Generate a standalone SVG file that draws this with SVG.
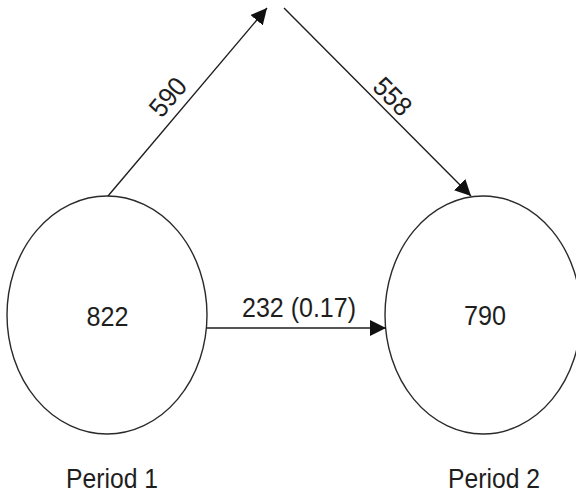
<svg xmlns="http://www.w3.org/2000/svg" width="576" height="493" viewBox="0 0 576 493">
  <defs>
    <style>
      .node { fill: none; stroke: #2a2a2a; stroke-width: 1.4; }
      .edge { fill: none; stroke: #1e1e1e; stroke-width: 1.4; }
      .lbl { font-family: "Liberation Sans", Arial, sans-serif; font-size: 27px; fill: #1e1e1e; }
    </style>
    <marker id="arrow" markerUnits="userSpaceOnUse" markerWidth="16" markerHeight="16" refX="16" refY="8" orient="auto">
      <path d="M0,0 L16,8 L0,16 z" fill="#111"/>
    </marker>
  </defs>
  <rect width="576" height="493" fill="#ffffff"/>

  <g id="period1">
    <ellipse class="node" cx="107" cy="315" rx="100" ry="119"/>
    <text class="lbl" x="107.5" y="326" text-anchor="middle" textLength="42" lengthAdjust="spacingAndGlyphs">822</text>
    <text class="lbl" x="112" y="488" text-anchor="middle" textLength="92" lengthAdjust="spacingAndGlyphs">Period 1</text>
  </g>

  <g id="period2">
    <ellipse class="node" cx="483" cy="315" rx="98" ry="119"/>
    <text class="lbl" x="485" y="325" text-anchor="middle" textLength="42" lengthAdjust="spacingAndGlyphs">790</text>
    <text class="lbl" x="494" y="488" text-anchor="middle" textLength="92" lengthAdjust="spacingAndGlyphs">Period 2</text>
  </g>

  <g id="connectors">
    <line class="edge" x1="108" y1="196" x2="267" y2="8" marker-end="url(#arrow)"/>
    <line class="edge" x1="284" y1="8" x2="471" y2="196" marker-end="url(#arrow)"/>
    <line class="edge" x1="207" y1="328" x2="386" y2="328" marker-end="url(#arrow)"/>
    <text class="lbl" transform="translate(175,103) rotate(-50)" text-anchor="middle" textLength="42" lengthAdjust="spacingAndGlyphs">590</text>
    <text class="lbl" transform="translate(386,103) rotate(45)" text-anchor="middle" textLength="42" lengthAdjust="spacingAndGlyphs">558</text>
    <text class="lbl" x="299" y="317" text-anchor="middle" textLength="114" lengthAdjust="spacingAndGlyphs">232 (0.17)</text>
  </g>
</svg>
